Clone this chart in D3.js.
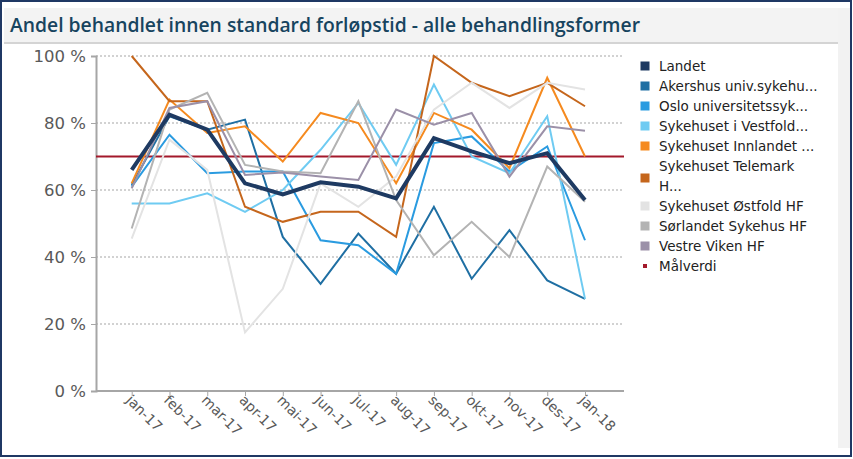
<!DOCTYPE html>
<html>
<head>
<meta charset="utf-8">
<script src="https://cdn.jsdelivr.net/npm/d3@7"></script>
<style>
  html, body { margin: 0; padding: 0; background: #ffffff; }
  svg { display: block; }
</style>
</head>
<body>
<svg id="chart" width="853" height="459"></svg>
<script>
// ---- data ----
const months = ["jan-17","feb-17","mar-17","apr-17","mai-17","jun-17","jul-17","aug-17","sep-17","okt-17","nov-17","des-17","jan-18"];
const seriesNames = ["Landet","Akershus univ.sykehu...","Oslo universitetssyk...","Sykehuset i Vestfold...","Sykehuset Innlandet ...","Sykehuset Telemark H...","Sykehuset Østfold HF","Sørlandet Sykehus HF","Vestre Viken HF"];
const landet      = [66, 82.5, 78, 62, 58.7, 62.3, 61, 57.5, 75.5, 71.5, 68, 71, 57];
const akershus    = [61.5, 82, 78, 81, 46, 32, 47, 35, 55, 33.5, 48, 33, 27.5];
const oslo        = [61, 76.5, 65, 65.5, 65.5, 45, 43.5, 35, 74, 76, 65.5, 73, 45];
const vestfold    = [56, 56, 59, 53.5, 60, 72, 86, 67.5, 91.5, 70, 65, 82, 27.5];
const innlandet   = [62, 87, 77, 79, 68.5, 83, 80, 62, 83, 78, 66.5, 93.5, 70];
const telemark    = [100, 86.5, 86.5, 55, 50.5, 53.5, 53.5, 46, 100, 92, 88, 92, 85];
const ostfold     = [45.5, 75, 66, 17.5, 30.5, 62, 55, 64, 84, 92, 84.5, 92, 90];
const sorlandet   = [48.5, 84, 89, 67.5, 65.5, 65, 86.5, 57, 40.5, 50.5, 40, 67, 56.5];
const vestreViken = [60.5, 84.5, 86.5, 64.5, 65.2, 64, 63, 84, 79.5, 83, 64, 79, 77.7];
const malverdi = 70;
const yTicks = [0, 20, 40, 60, 80, 100];
const title = "Andel behandlet innen standard forløpstid - alle behandlingsformer";

// ---- styles ----
const colors = ["#1e3a62","#1f6fa3","#2a9be0","#6fcbf2","#f58a1f","#c5661c","#e3e3e3","#b3b3b3","#9b90a8"];
const widths = [4, 2, 2, 2, 2, 2, 2, 2, 2];
const allValues = [landet, akershus, oslo, vestfold, innlandet, telemark, ostfold, sorlandet, vestreViken];
const goalColor = "#a3192b";

const svg = d3.select("#chart");

// frame
svg.append("rect").attr("x", 0).attr("y", 0).attr("width", 853).attr("height", 459).attr("fill", "#ffffff");
svg.append("rect").attr("x", 838).attr("y", 8).attr("width", 12).attr("height", 440).attr("fill", "#f2f2f2");
svg.append("rect").attr("x", 4).attr("y", 8).attr("width", 834).attr("height", 34).attr("fill", "#f3f3f3");
svg.append("line").attr("x1", 4).attr("x2", 838).attr("y1", 43).attr("y2", 43).attr("stroke", "#d4d4d4").attr("stroke-width", 2);
svg.append("rect").attr("x", 1).attr("y", 1).attr("width", 850).attr("height", 455)
  .attr("fill", "none").attr("stroke", "#1f3864").attr("stroke-width", 2);

svg.append("text").attr("x", 10).attr("y", 32).text(title)
  .attr("font-family", "'Open Sans', sans-serif").attr("font-weight", 600)
  .attr("font-size", 20).attr("fill", "#17445f")
  .attr("textLength", 630).attr("lengthAdjust", "spacingAndGlyphs");

// scales
const x = d3.scalePoint().domain(months).range([131.7, 585]);
const y = d3.scaleLinear().domain([0, 100]).range([391, 56]);
const plotLeft = 96, plotRight = 624;

// gridlines
svg.append("g").selectAll("line").data(yTicks.filter(d => d > 0)).join("line")
  .attr("x1", plotLeft).attr("x2", plotRight)
  .attr("y1", d => y(d)).attr("y2", d => y(d))
  .attr("stroke", "#c4c4c4").attr("stroke-width", 1.5).attr("stroke-dasharray", "2,2");

// y axis
const yAxis = svg.append("g").attr("transform", `translate(${plotLeft},0)`)
  .call(d3.axisLeft(y).tickValues(yTicks).tickFormat(d => d + " %").tickSize(5).tickPadding(5));
yAxis.select(".domain").attr("stroke", "#a6a6a6").attr("stroke-width", 2);
yAxis.selectAll(".tick line").attr("stroke", "#a6a6a6");
yAxis.selectAll("text").attr("font-family", "'DejaVu Sans', sans-serif").attr("font-size", 16.5).attr("fill", "#595959");

// x axis
const xAxis = svg.append("g").attr("transform", `translate(0,${y(0)})`)
  .call(d3.axisBottom(x).tickSize(5).tickSizeOuter(0));
xAxis.select(".domain").attr("d", `M${plotLeft},0H${plotRight}`).attr("stroke", "#a6a6a6").attr("stroke-width", 2);
xAxis.selectAll(".tick line").attr("stroke", "#a6a6a6");
xAxis.selectAll("text")
  .attr("font-family", "'DejaVu Sans', sans-serif").attr("font-size", 14).attr("fill", "#595959")
  .attr("text-anchor", "start").attr("dy", 0).attr("y", 0)
  .attr("transform", "translate(-7,10) rotate(45)");

// goal line
svg.append("line").attr("x1", plotLeft).attr("x2", plotRight)
  .attr("y1", y(malverdi)).attr("y2", y(malverdi))
  .attr("stroke", goalColor).attr("stroke-width", 2);

// series lines (Landet last so it sits on top)
const line = d3.line().x((d, i) => x(months[i])).y(d => y(d));
const order = [1, 2, 3, 4, 5, 6, 7, 8, 0];
svg.append("g").selectAll("path").data(order).join("path")
  .attr("d", k => line(allValues[k]))
  .attr("fill", "none")
  .attr("stroke", k => colors[k])
  .attr("stroke-width", k => widths[k])
  .attr("stroke-linejoin", "miter");

// legend
const legendItems = [
  {label: ["Landet"], color: colors[0]},
  {label: ["Akershus univ.sykehu..."], color: colors[1]},
  {label: ["Oslo universitetssyk..."], color: colors[2]},
  {label: ["Sykehuset i Vestfold..."], color: colors[3]},
  {label: ["Sykehuset Innlandet ..."], color: colors[4]},
  {label: ["Sykehuset Telemark", "H..."], color: colors[5]},
  {label: ["Sykehuset Østfold HF"], color: colors[6]},
  {label: ["Sørlandet Sykehus HF"], color: colors[7]},
  {label: ["Vestre Viken HF"], color: colors[8]},
  {label: ["Målverdi"], color: goalColor, small: true}
];
let ly = 66;
const lg = svg.append("g");
legendItems.forEach(it => {
  const n = it.label.length;
  const cy = ly + (n - 1) * 20 / 2 + (n > 1 ? 2 : 0);
  const s = it.small ? 4 : 9;
  lg.append("rect").attr("x", 645 - s / 2).attr("y", cy - s / 2)
    .attr("width", s).attr("height", s).attr("fill", it.color);
  it.label.forEach((t, j) => {
    lg.append("text").attr("x", 659).attr("y", ly + j * 20).attr("dy", "0.35em")
      .text(t).attr("font-family", "'DejaVu Sans', sans-serif").attr("font-size", 13.5).attr("fill", "#222222");
  });
  ly += n * 20;
});
</script>
</body>
</html>
